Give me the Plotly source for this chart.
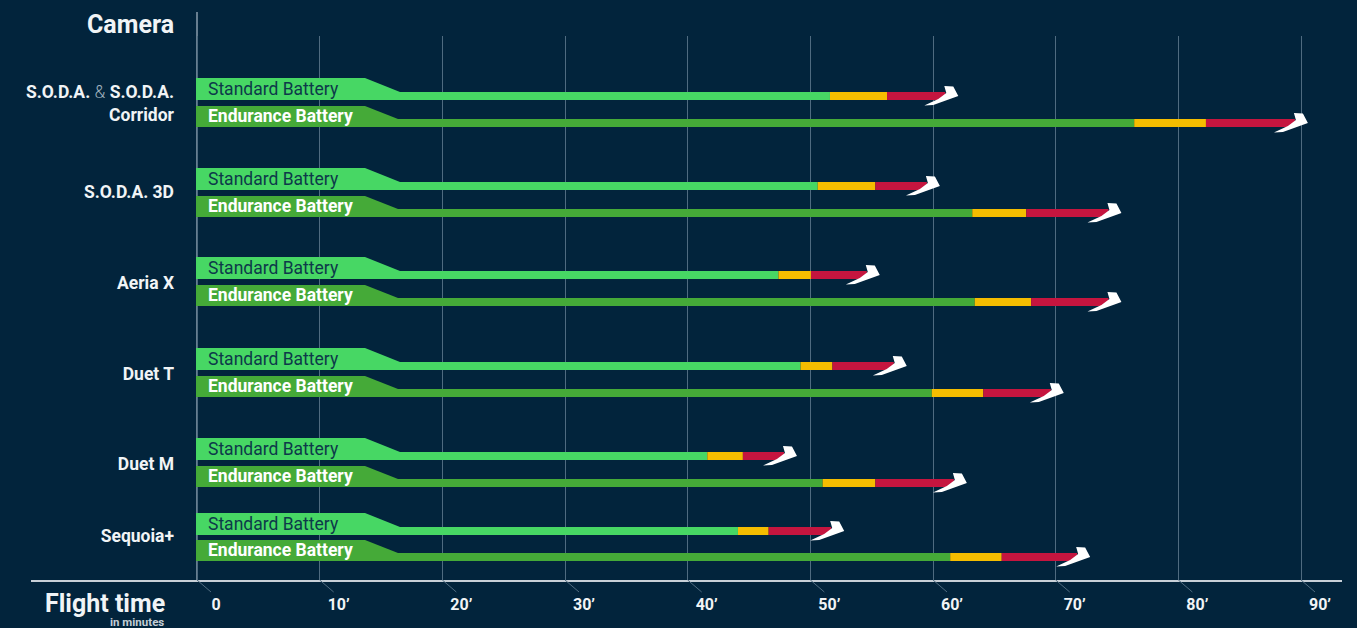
import plotly.graph_objects as go

# ---- data (minutes) ----
cameras = ["S.O.D.A. <span style=\"font-weight:300;color:#9fb0bd\">&</span> S.O.D.A.<br>Corridor",
           "S.O.D.A. 3D", "Aeria X", "Duet T", "Duet M", "Sequoia+"]
standard_green = [51.6, 50.6, 47.4, 49.2, 41.6, 44.1]
standard_amber = [56.25, 55.3, 50.05, 51.8, 44.5, 46.6]
standard_red = [61.0, 59.5, 54.6, 56.8, 47.85, 51.7]
endurance_green = [76.4, 63.2, 63.4, 59.9, 51.0, 61.4]
endurance_amber = [82.25, 67.6, 68.0, 64.1, 55.3, 65.6]
endurance_red = [89.5, 74.3, 74.3, 69.6, 61.7, 71.75]
tick_values = [0, 10, 20, 30, 40, 50, 60, 70, 80, 90]
tick_labels = ["0", "10’", "20’", "30’", "40’", "50’", "60’", "70’", "80’", "90’"]

# ---- layout helpers ----
standard_rows = [96, 186, 275, 366, 456, 531]
endurance_rows = [123, 213, 302, 393, 483, 557]
camera_rows = [103, 192, 283, 374, 464, 536]

BG = "#02243c"
GREEN_S = "#47d764"
GREEN_E = "#45aa38"
AMBER = "#f5bd00"
RED = "#c5153f"
GRID = "#4f6b80"
TXT = "#f1f4f6"
FONT = "Roboto"

fig = go.Figure()


def seg(rows, start, end, color):
    base = start if start is not None else [0] * len(end)
    fig.add_trace(go.Bar(orientation="h", y=rows, base=base,
                         x=[e - b for e, b in zip(end, base)], width=8,
                         marker=dict(color=color, line=dict(width=0)),
                         showlegend=False, hoverinfo="skip"))


seg(standard_rows, None, standard_green, GREEN_S)
seg(standard_rows, standard_green, standard_amber, AMBER)
seg(standard_rows, standard_amber, standard_red, RED)
seg(endurance_rows, None, endurance_green, GREEN_E)
seg(endurance_rows, endurance_green, endurance_amber, AMBER)
seg(endurance_rows, endurance_amber, endurance_red, RED)

shapes = []
TAG_PATH = "M -1 18 L 168 18 L 203 4 L 203 -4 L -1 -4 Z"
TAG_PATH_E = "M -1 17 L 168 17 L 201 4 L 201 -4 L -1 -4 Z"
ARROW = "M -1 10 L 8 9.4 L 13 0 L -12 -9 L -21 -9.4 L -7 -3 L 1 3 Z"


def px_shape(path, x, y, color):
    return dict(type="path", path=path, xref="x", yref="y", xsizemode="pixel",
                ysizemode="pixel", xanchor=x, yanchor=y, fillcolor=color,
                line=dict(width=0), layer="above")


annotations = []
for row, end in zip(standard_rows, standard_red):
    shapes.append(px_shape(TAG_PATH, 0, row, GREEN_S))
    shapes.append(px_shape(ARROW, end, row, "#ffffff"))
    annotations.append(dict(x=0, y=row - 7, xref="x", yref="y", xanchor="left", xshift=9,
                            text="Standard Battery", showarrow=False,
                            font=dict(family=FONT, size=17.5, color="#0d3a4a")))
for row, end in zip(endurance_rows, endurance_red):
    shapes.append(px_shape(TAG_PATH_E, 0, row, GREEN_E))
    shapes.append(px_shape(ARROW, end, row, "#ffffff"))
    annotations.append(dict(x=0, y=row - 7, xref="x", yref="y", xanchor="left", xshift=9,
                            text="<b>Endurance Battery</b>", showarrow=False,
                            font=dict(family=FONT, size=17.5, color="#ffffff")))

# zero line (rises above the grid) and slanted tick marks below the axis
shapes.append(dict(type="line", xref="x", yref="paper", x0=0, x1=0, y0=0, y1=(580 - 12) / (580 - 36),
                   line=dict(color="#8195a5", width=1.6), layer="below"))
for t in tick_values:
    shapes.append(dict(type="path", path="M 0 0 L 14 -12", xref="x", yref="paper",
                       xsizemode="pixel", ysizemode="pixel", xanchor=t, yanchor=0,
                       line=dict(color=GRID, width=1), layer="above"))

annotations += [
    dict(xref="paper", yref="paper", x=(176 - 31) / 1311, y=(580 - 24) / 544, xanchor="right", yanchor="middle",
         text="<b>Camera</b>", showarrow=False, font=dict(family=FONT, size=25, color=TXT)),
    dict(xref="paper", yref="paper", x=(166 - 31) / 1311, y=(580 - 603) / 544, xanchor="right", yanchor="middle",
         borderpad=0, text="<b>Flight time</b>", showarrow=False, font=dict(family=FONT, size=25, color=TXT)),
    dict(xref="paper", yref="paper", x=(165 - 31) / 1311, y=(580 - 622) / 544, xanchor="right", yanchor="middle",
         borderpad=0, text="<b>in minutes</b>", showarrow=False, font=dict(family=FONT, size=11.5, color="#c4ced6")),
]

fig.update_layout(
    width=1357, height=628, margin=dict(l=31, r=15, t=36, b=48, pad=0),
    paper_bgcolor=BG, plot_bgcolor=BG, barmode="overlay", showlegend=False,
    font=dict(family=FONT, color=TXT),
    shapes=shapes, annotations=annotations,
    xaxis=dict(range=[(31 - 197) / 12.267, (1342 - 197) / 12.267], tickvals=tick_values, ticktext=tick_labels,
               automargin=False,
               showgrid=True, gridcolor=GRID, gridwidth=1.3, zeroline=False,
               showline=True, linecolor="#c8d0d8", linewidth=1.5,
               ticks="", ticklabelshift=19, ticklabelstandoff=9,
               tickfont=dict(family=FONT, size=16, color=TXT, weight=700)),
    yaxis=dict(range=[580, 36], anchor="free", position=(197 - 31) / 1311,
               automargin=False,
               tickvals=camera_rows, ticktext=cameras, showgrid=False, zeroline=False, showline=False,
               ticks="", ticklabelstandoff=23,
               tickfont=dict(family=FONT, size=17.5, color=TXT, weight=700)),
)

fig.write_html("out.html", config={"displayModeBar": False},
               post_script="document.body.style.margin='0';document.body.style.background='#02243c';")
